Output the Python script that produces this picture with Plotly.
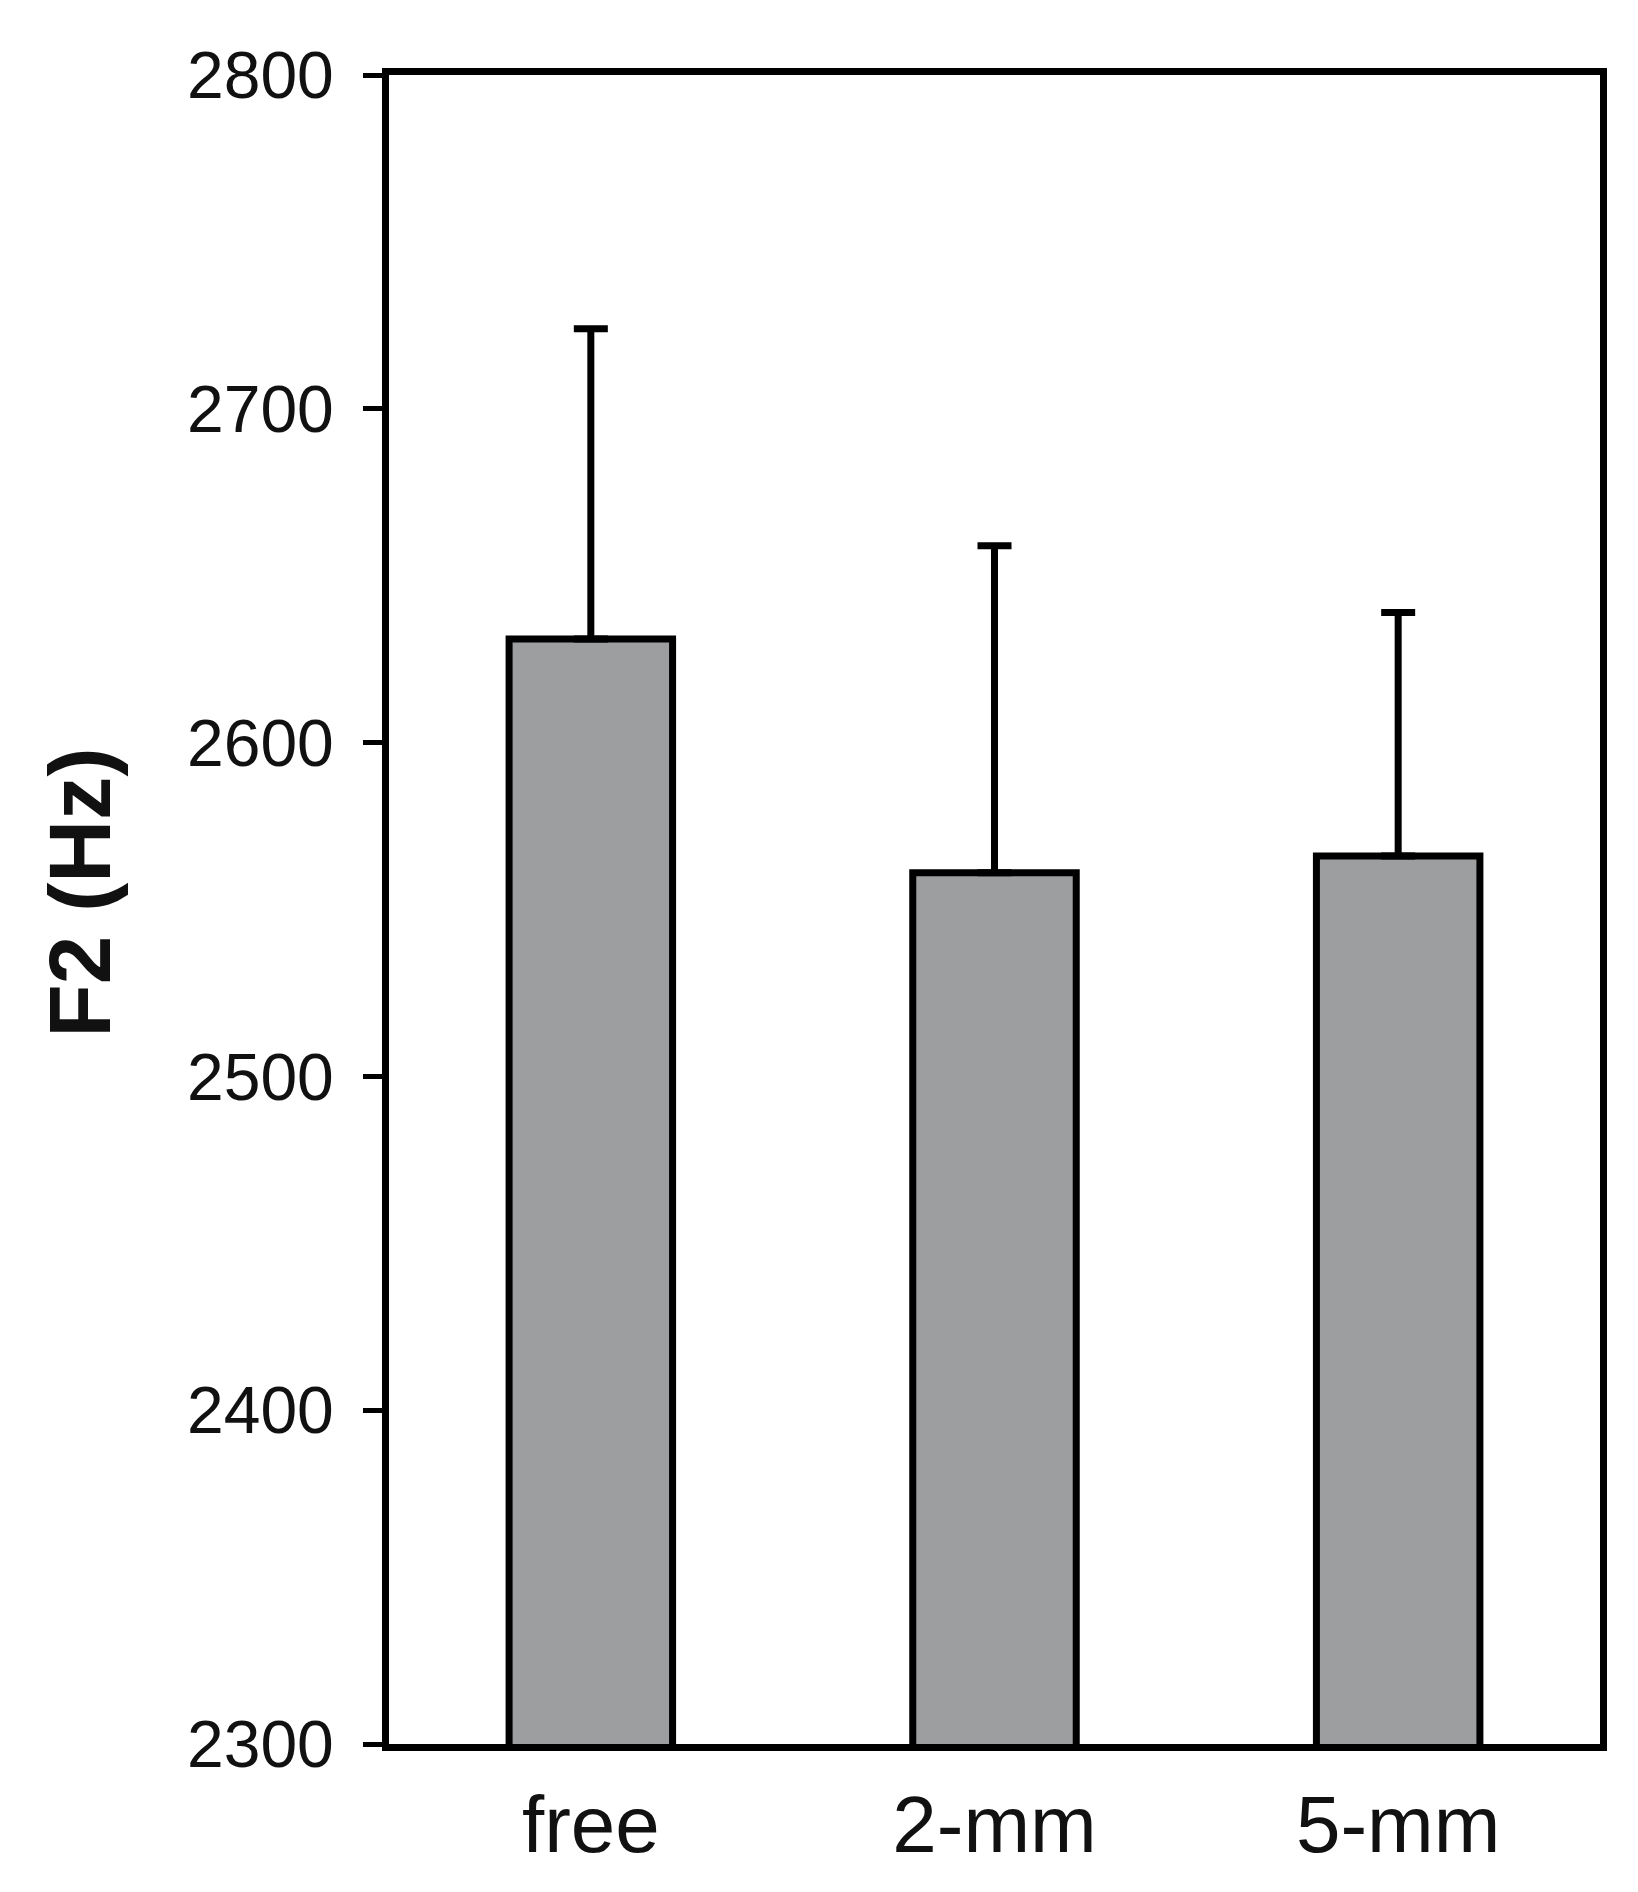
import plotly.graph_objects as go

categories = ["free", "2-mm", "5-mm"]
f2_mean = [2631, 2561, 2566]
f2_sd = [93, 98, 73]
y_ticks = [2300, 2400, 2500, 2600, 2700, 2800]

fig = go.Figure()
fig.add_trace(go.Bar(
    x=categories,
    y=f2_mean,
    width=0.405,
    marker=dict(color="#9d9ea0", line=dict(color="black", width=7)),
    error_y=dict(type="data", array=f2_sd, arrayminus=[0] * len(f2_sd),
                 symmetric=False, color="black", thickness=7, width=17),
    showlegend=False,
))

font_family = "Liberation Sans, Arial, sans-serif"
txt_color = "#111111"

fig.update_layout(
    width=1638, height=1892,
    margin=dict(l=381, r=46, t=67, b=156),
    paper_bgcolor="white", plot_bgcolor="white",
    font=dict(family=font_family, color=txt_color),
    annotations=[dict(
        text="<b>F2 (Hz)</b>", textangle=-90,
        xref="paper", yref="paper", x=0, y=0.5,
        xanchor="center", yanchor="middle",
        xshift=-310, yshift=17, showarrow=False,
        font=dict(size=87, family=font_family, color=txt_color),
    )],
)
fig.update_xaxes(
    showline=True, linecolor="black", linewidth=7, mirror=True,
    ticks="", showgrid=False,
    tickfont=dict(size=80, family=font_family, color=txt_color),
    ticklabelstandoff=5,
)
fig.update_yaxes(
    range=[2300, 2800], tickvals=y_ticks,
    showline=True, linecolor="black", linewidth=7, mirror=True,
    ticks="outside", ticklen=19, tickwidth=5, tickcolor="black",
    showgrid=False, zeroline=False,
    tickfont=dict(size=66, family=font_family, color=txt_color),
    ticklabelstandoff=16,
)

fig.write_html("out.html")
